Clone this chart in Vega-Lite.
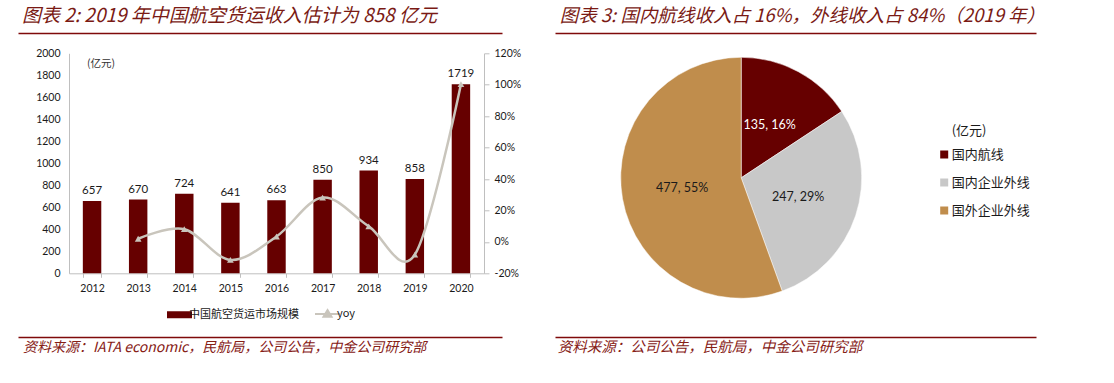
{
  "$schema": "https://vega.github.io/schema/vega-lite/v6.json",
  "padding": {"left": 22, "top": 6, "right": 5, "bottom": 5},
  "autosize": {"type": "pad"},
  "background": "white",
  "config": {"view": {"stroke": null}, "font": "Lato"},
  "resolve": {"scale": {"color": "independent"}, "legend": {"color": "independent"}},
  "spacing": 4.7,
  "hconcat": [
    {
      "spacing": 20.3,
      "bounds": "flush",
      "vconcat": [
        {
          "width": 415, "height": 1,
          "title": {"text": "图表 2: 2019 年中国航空货运收入估计为 858 亿元", "anchor": "start", "frame": "group", "dx": -47, "offset": 4, "font": "Noto Sans CJK SC", "fontSize": 19, "fontStyle": "italic", "fontWeight": "normal", "color": "#7a1a14"},
          "data": {"values": [{"a": 0.5}]},
          "mark": {"type": "point", "opacity": 0},
          "encoding": {"x": {"field": "a", "type": "quantitative", "scale": {"domain": [0, 1], "range": [-51, 433]}, "axis": {"orient": "bottom", "domainColor": "#7f0a0a", "domainWidth": 1.5, "ticks": false, "labels": false, "title": null, "grid": false}}}
        },
        {
          "width": 415, "height": 220,
          "data": {"values": [
            {"year": "2012", "value": 657, "yoy": null, "note": "(亿元)"},
            {"year": "2013", "value": 670, "yoy": 0.0198},
            {"year": "2014", "value": 724, "yoy": 0.0806},
            {"year": "2015", "value": 641, "yoy": -0.1146},
            {"year": "2016", "value": 663, "yoy": 0.0343},
            {"year": "2017", "value": 850, "yoy": 0.2821},
            {"year": "2018", "value": 934, "yoy": 0.0988},
            {"year": "2019", "value": 858, "yoy": -0.0814},
            {"year": "2020", "value": 1719, "yoy": 1.0035}
          ]},
          "encoding": {"x": {"field": "year", "type": "ordinal", "scale": {"paddingInner": 0.6, "paddingOuter": 0.3}, "axis": {"title": null, "labelAngle": 0, "tickBand": "extent", "tickSize": 4, "tickColor": "#bfbfbf", "domainColor": "#bfbfbf", "labelPadding": 6, "labelFont": "Lato", "labelFontSize": 10.5, "labelColor": "#1a1a1a", "grid": false}}},
          "layer": [
            {
              "encoding": {"y": {"field": "value", "type": "quantitative", "scale": {"domain": [0, 2000], "nice": false}, "axis": {"title": null, "orient": "left", "format": "d", "values": [0, 200, 400, 600, 800, 1000, 1200, 1400, 1600, 1800, 2000], "ticks": false, "labelPadding": 9, "domainColor": "#bfbfbf", "labelFont": "Lato", "labelFontSize": 10.5, "labelColor": "#1a1a1a", "grid": false}}},
              "layer": [
                {
                  "mark": {"type": "bar"},
                  "encoding": {"color": {"datum": "中国航空货运市场规模", "type": "nominal", "scale": {"domain": ["中国航空货运市场规模", "yoy"], "range": ["#660000", "#c9c5bc"]}, "legend": {"orient": "none", "legendX": 105, "legendY": 276, "direction": "horizontal", "title": null, "symbolSize": 625, "labelFont": "Noto Sans CJK SC", "labelFontSize": 11, "labelColor": "#1a1a1a", "labelOffset": 4, "columnPadding": 12, "encode": {"symbols": {"update": {"shape": {"signal": "datum.value === 'yoy' ? 'M-1,0H1M0,-0.3L0.32,0.22H-0.32Z' : 'M-1,-0.28H1V0.28H-1Z'"}, "fill": {"signal": "datum.value === 'yoy' ? '#c9c5bc' : '#660000'"}, "stroke": {"signal": "datum.value === 'yoy' ? '#c9c5bc' : '#660000'"}, "strokeWidth": {"signal": "datum.value === 'yoy' ? 2 : 0"}, "opacity": {"value": 1}}}}}}}
                },
                {
                  "mark": {"type": "text", "baseline": "bottom", "dy": -5, "fontSize": 11.5, "font": "Lato", "color": "#1a1a1a"},
                  "encoding": {"text": {"field": "value", "type": "quantitative", "format": "d"}}
                },
                {
                  "transform": [{"filter": "isValid(datum.note)"}],
                  "mark": {"type": "text", "align": "left", "dx": -5, "fontSize": 10.5, "font": "Noto Sans CJK SC", "color": "#333333"},
                  "encoding": {"y": {"datum": 1900, "type": "quantitative"}, "text": {"field": "note", "type": "nominal"}}
                }
              ]
            },
            {
              "encoding": {"y": {"field": "yoy", "type": "quantitative", "scale": {"domain": [-0.2, 1.2], "nice": false}, "axis": {"title": null, "orient": "right", "values": [-0.2, 0, 0.2, 0.4, 0.6, 0.8, 1.0, 1.2], "format": ".0%", "labelExpr": "replace(datum.label, '−', '-')", "ticks": true, "tickSize": 5, "tickColor": "#bfbfbf", "labelPadding": 5, "domainColor": "#bfbfbf", "labelFont": "Lato", "labelFontSize": 10.5, "labelColor": "#1a1a1a", "grid": false}}},
              "layer": [
                {
                  "mark": {"type": "line", "interpolate": "cardinal", "strokeWidth": 2.5},
                  "encoding": {"color": {"datum": "yoy", "type": "nominal"}}
                },
                {
                  "mark": {"type": "point", "shape": "triangle-up", "filled": true, "size": 45, "opacity": 1},
                  "encoding": {"color": {"datum": "yoy", "type": "nominal"}}
                }
              ]
            }
          ],
          "resolve": {"scale": {"y": "independent"}, "axis": {"y": "independent"}}
        },
        {
          "width": 415, "height": 43.4,
          "title": {"text": "资料来源：IATA economic，民航局，公司公告，中金公司研究部", "orient": "bottom", "anchor": "start", "frame": "group", "dx": -46, "offset": 4, "font": "Noto Sans CJK SC", "fontSize": 14, "fontStyle": "italic", "fontWeight": "normal", "color": "#862015"},
          "data": {"values": [{"a": 0.5}]},
          "mark": {"type": "point", "opacity": 0},
          "encoding": {"x": {"field": "a", "type": "quantitative", "scale": {"domain": [0, 1], "range": [-51, 433]}, "axis": {"orient": "bottom", "domainColor": "#7f0a0a", "domainWidth": 1.5, "ticks": false, "labels": false, "title": null, "grid": false}}}
        }
      ]
    },
    {
      "spacing": 24.3,
      "bounds": "flush",
      "vconcat": [
        {
          "width": 241, "height": 1,
          "title": {"text": "图表 3: 国内航线收入占 16%，外线收入占 84%（2019 年）", "anchor": "start", "frame": "group", "dx": -61, "offset": 4, "font": "Noto Sans CJK SC", "fontSize": 18.5, "fontStyle": "italic", "fontWeight": "normal", "color": "#7a1a14"},
          "data": {"values": [{"a": 0.5}]},
          "mark": {"type": "point", "opacity": 0},
          "encoding": {"x": {"field": "a", "type": "quantitative", "scale": {"domain": [0, 1], "range": [-65.7, 415.3]}, "axis": {"orient": "bottom", "domainColor": "#7f0a0a", "domainWidth": 1.5, "ticks": false, "labels": false, "title": null, "grid": false}}}
        },
        {
          "width": 241, "height": 241,
          "data": {"values": [
            {"cat": "国内航线", "v": 135, "label": "135, 16%", "o": 1},
            {"cat": "国内企业外线", "v": 247, "label": "247, 29%", "o": 2},
            {"cat": "国外企业外线", "v": 477, "label": "477, 55%", "o": 3}
          ]},
          "encoding": {"theta": {"field": "v", "type": "quantitative", "stack": true}, "order": {"field": "o", "type": "quantitative"}},
          "layer": [
            {
              "mark": {"type": "arc", "stroke": "white", "strokeWidth": 0.5},
              "encoding": {"color": {"field": "cat", "type": "nominal", "scale": {"domain": ["国内航线", "国内企业外线", "国外企业外线"], "range": ["#660000", "#c8c8c8", "#c08d4c"]}, "legend": {"orient": "none", "legendX": 331, "legendY": 93, "title": "(亿元)", "titleFont": "Noto Sans CJK SC", "titleFontSize": 13, "titleFontWeight": "normal", "titleColor": "#1a1a1a", "titlePadding": 10, "labelFont": "Noto Sans CJK SC", "labelFontSize": 13, "labelColor": "#1a1a1a", "symbolType": "square", "symbolSize": 64, "symbolStrokeWidth": 0, "symbolOffset": -14, "rowPadding": 14, "labelOffset": 1}}}
            },
            {
              "mark": {"type": "text", "radius": 60, "fontSize": 12.5, "font": "Lato"},
              "encoding": {"text": {"field": "label"}, "color": {"condition": {"test": "datum.cat === '国内航线'", "value": "white"}, "value": "#1a1a1a"}}
            }
          ]
        },
        {
          "width": 241, "height": 14.4,
          "title": {"text": "资料来源：公司公告，民航局，中金公司研究部", "orient": "bottom", "anchor": "start", "frame": "group", "dx": -63, "offset": 4, "font": "Noto Sans CJK SC", "fontSize": 14.5, "fontStyle": "italic", "fontWeight": "normal", "color": "#862015"},
          "data": {"values": [{"a": 0.5}]},
          "mark": {"type": "point", "opacity": 0},
          "encoding": {"x": {"field": "a", "type": "quantitative", "scale": {"domain": [0, 1], "range": [-65.7, 415.3]}, "axis": {"orient": "bottom", "domainColor": "#7f0a0a", "domainWidth": 1.5, "ticks": false, "labels": false, "title": null, "grid": false}}}
        }
      ]
    }
  ]
}
